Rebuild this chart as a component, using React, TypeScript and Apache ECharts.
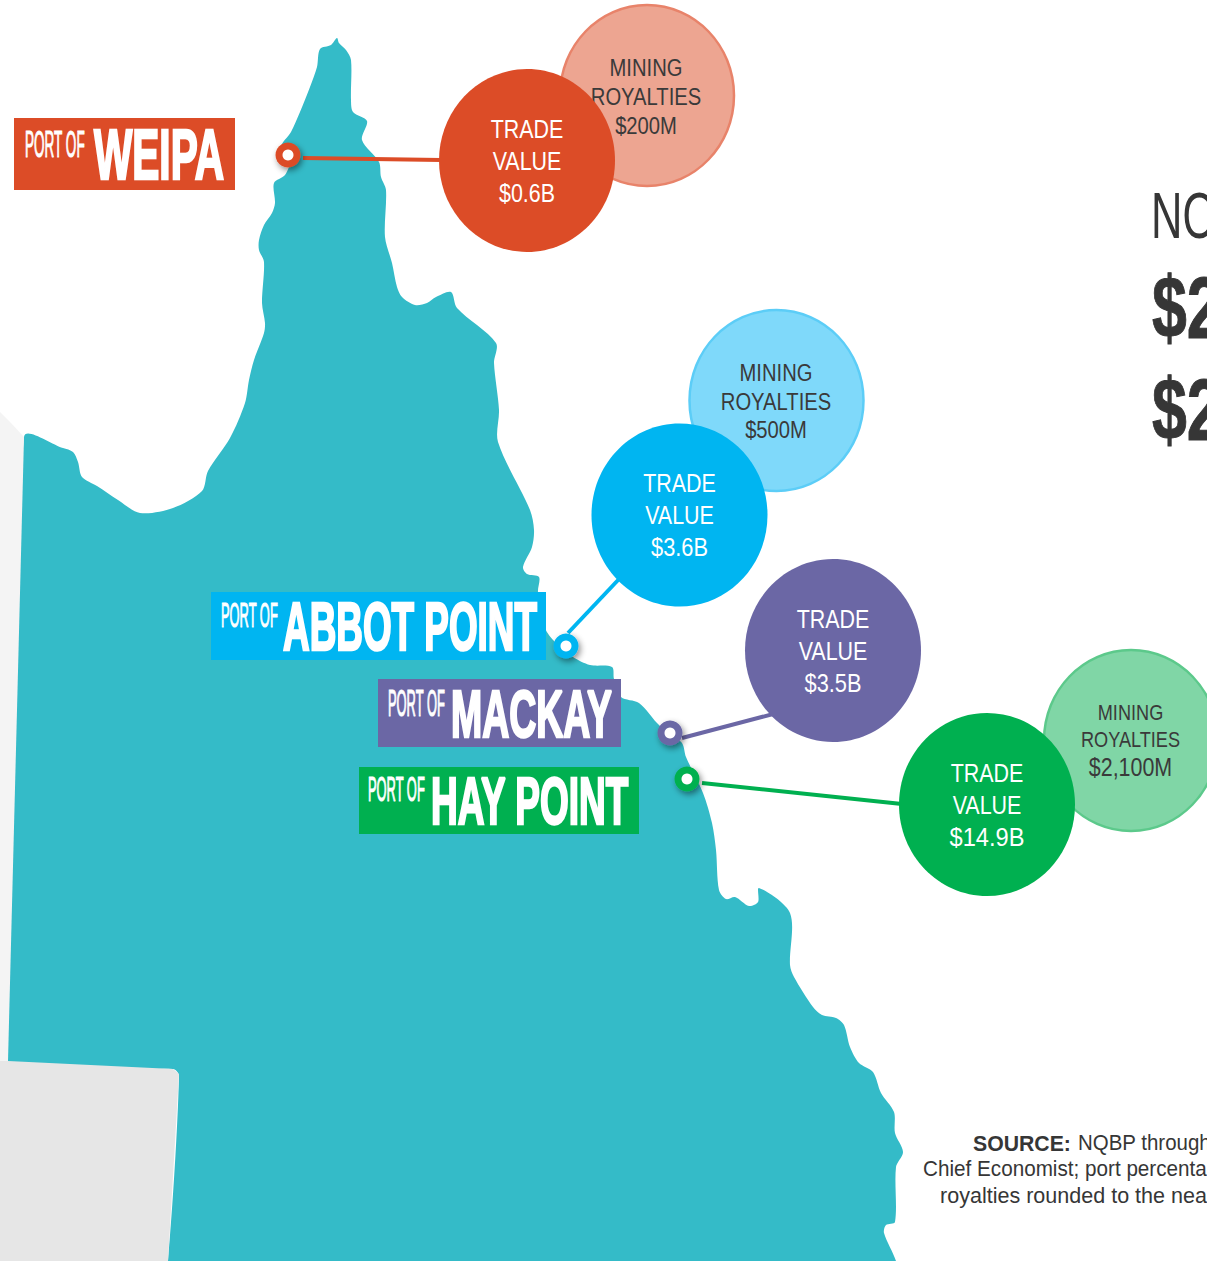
import React, { useEffect, useRef } from "react";
import * as echarts from "echarts";

const WIDTH = 1207;
const HEIGHT = 1261;

// ---- content ----
const portNames = ["WEIPA", "ABBOT POINT", "MACKAY", "HAY POINT"];
const tradeValues = ["$0.6B", "$3.6B", "$3.5B", "$14.9B"];
const royaltyValues = ["$200M", "$500M", "", "$2,100M"];
const sideHeading = "NO";
const sideFigures = ["$2", "$2"];
const sourceBold = "SOURCE:";
const sourceLines = ["NQBP through", "Chief Economist; port percenta", "royalties rounded to the nea"];

// ---- layout ----
const coast: number[][] = [
  [8, 1061], [24, 437], [63, 448], [73, 452], [78, 462], [82, 477], [97, 486], [118, 500], [140, 513], [173, 508],
  [202, 491], [208, 471], [230, 438], [245, 403], [249, 380], [254, 360], [264, 333], [265, 323], [262, 303],
  [264, 262], [259, 250], [259, 240], [264, 225], [272, 213], [275, 203], [274, 183], [285, 175], [290, 160],
  [281, 147], [291, 132], [300, 112], [310, 87], [317, 67], [320, 49], [331, 45], [337, 38], [339, 43], [346, 50],
  [351, 60], [351, 100], [353, 112], [367, 121], [362, 140], [379, 162], [381, 177], [386, 190], [385, 237],
  [392, 263], [397, 287], [402, 297], [415, 305], [427, 303], [436, 297], [451, 292], [457, 308], [496, 343],
  [494, 363], [499, 410], [498, 442], [530, 510], [534, 530], [532, 547], [523, 567], [527, 574], [539, 577],
  [538, 592], [545, 628], [555, 642], [573, 657], [590, 665], [612, 667], [614, 679], [621, 697], [639, 703],
  [657, 723], [670, 735], [682, 743], [686, 757], [703, 793], [712, 823], [716, 850], [719, 890], [726, 899],
  [735, 897], [749, 906], [758, 902], [759, 888], [790, 913], [790, 965], [794, 977], [813, 1007], [822, 1015],
  [836, 1018], [844, 1025], [850, 1047], [859, 1063], [873, 1072], [881, 1093], [894, 1112], [895, 1133],
  [903, 1152], [896, 1167], [895, 1222], [886, 1225], [884, 1233], [896, 1261], [905, 1300], [160, 1300],
  [168, 1261], [179, 1076], [173, 1069],
];
const lightLand: number[][] = [[0, 412], [10, 422], [24, 437], [8, 1061], [0, 1061]];
const greyLand: number[][] = [[0, 1061], [8, 1061], [173, 1069], [179, 1074], [168, 1261], [0, 1261]];

const portColors = ["#DC4C27", "#00B5F1", "#6B67A5", "#00B050"];
const royaltyFills = ["#EDA591", "#7FD9FA", "", "#80D6A6"];
const royaltyStrokes = ["#E8836A", "#5CCDF7", "", "#5CC98B"];
const dots = [[288, 155], [566, 646], [670, 733], [687, 779]];
const lineStarts = [[303, 158], [568, 633], [682, 738], [702, 783]];
const lineEnds = [[441, 160], [620, 578], [777, 713], [902, 804]];
const tradeCentres = [[527, 160.5], [679.5, 515], [833, 650.5], [987, 804.5]];
const tradeTextX = [527, 679.5, 833, 987];
const tradeTextY = [[129, 161, 193], [483, 515, 547], [619, 651, 683], [773, 805, 837]];
const tradeValueW = [56, 57, 57, 75];
const royaltyCentres = [[647, 95.5], [776.5, 400.5], null, [1131, 740.5]];
const royaltyTextX = [646, 776, 0, 1130.5];
const royaltyTextY = [[68, 97, 126], [373, 402, 430], [], [712, 739, 767]];
const royaltySizes = [[24.5, 24.5, 24.5], [24.5, 24.5, 24.5], [], [22, 22, 26]];
const banners = [[14, 118, 235, 190], [211, 592, 546, 660], [378, 679, 621, 747], [359, 767, 639, 834]];
const smallLabel = [[25, 85, 143.5, 27], [221, 278, 615.5, 25], [388, 445, 703, 26], [368, 425, 789.5, 25]];
const bigLabel = [[94, 224, 154.5, 51], [283, 537, 626.5, 49], [451, 612, 714, 48], [431, 629, 801, 48]];
const sourceX = [1078, 923, 940];
const sourceY = [1143, 1169, 1195];
const sourceW = [133, 284, 267];

const SANS = '"Liberation Sans", sans-serif';
const BUBBLE_SQUEEZE = 0.825;

const measureCanvas = typeof document !== "undefined" ? document.createElement("canvas").getContext("2d") : null;
function fit(text: string, font: string, width: number) {
  if (!measureCanvas) return 1;
  measureCanvas.font = font;
  return width / measureCanvas.measureText(text).width;
}

function layer(z: number, build: (api: any) => any[]) {
  return {
    type: "custom",
    coordinateSystem: "cartesian2d",
    silent: true,
    z,
    data: [[0, 0]],
    renderItem: (_p: any, api: any) => ({ type: "group", children: build(api) }),
  };
}

function poly(api: any, pts: number[][], fill: string, smooth = 0) {
  return {
    type: "polygon",
    shape: { points: pts.map((p) => api.coord(p)), smooth },
    style: { fill },
  };
}

function label(api: any, text: string, x: number, y: number, font: string, fill: string, extra: any = {}) {
  const [px, py] = api.coord([x, y]);
  return {
    type: "text",
    x: px,
    y: py,
    scaleX: extra.scaleX ?? 1,
    scaleY: extra.scaleY ?? 1,
    style: {
      text,
      font,
      fill,
      align: extra.align ?? "center",
      verticalAlign: "middle",
      stroke: extra.stroke,
      lineWidth: extra.lineWidth,
    },
  };
}

function ellipse(api: any, c: number[], w: number, h: number, fill: string, stroke?: string) {
  const [cx, cy] = api.coord(c);
  return {
    type: "ellipse",
    shape: { cx, cy, rx: w / 2, ry: h / 2 },
    style: { fill, stroke, lineWidth: stroke ? 2.5 : 0 },
  };
}

function buildOption() {
  const series: any[] = [];

  series.push(
    layer(1, (api) => [
      poly(api, coast, "#34BBC8", 0.3),
      poly(api, lightLand, "#F4F4F4"),
      poly(api, greyLand, "#E6E6E6"),
    ])
  );

  series.push(
    layer(2, (api) =>
      portNames.map((_, i) => {
        const a = api.coord(lineStarts[i]);
        const b = api.coord(lineEnds[i]);
        return {
          type: "line",
          shape: { x1: a[0], y1: a[1], x2: b[0], y2: b[1] },
          style: { stroke: portColors[i], lineWidth: 4 },
        };
      })
    )
  );

  series.push(
    layer(3, (api) => {
      const out: any[] = [];
      royaltyValues.forEach((v, i) => {
        const c = royaltyCentres[i];
        if (!c || !v) return;
        out.push(ellipse(api, c, 174, 181, royaltyFills[i], royaltyStrokes[i]));
      });
      return out;
    })
  );

  series.push(
    layer(4, (api) => {
      const out: any[] = [];
      royaltyValues.forEach((v, i) => {
        if (!v) return;
        const lines = ["MINING", "ROYALTIES", v];
        lines.forEach((t, j) => {
          const size = royaltySizes[i][j];
          out.push(
            label(api, t, royaltyTextX[i], royaltyTextY[i][j], `${size}px ${SANS}`, "#3A3A3A", {
              scaleX: BUBBLE_SQUEEZE,
            })
          );
        });
      });
      return out;
    })
  );

  series.push(
    layer(5, (api) => {
      const out: any[] = [];
      tradeValues.forEach((v, i) => {
        out.push(ellipse(api, tradeCentres[i], 176, 183, portColors[i]));
        const font = `26px ${SANS}`;
        ["TRADE", "VALUE", v].forEach((t, j) => {
          out.push(
            label(api, t, tradeTextX[i], tradeTextY[i][j], font, "#FFFFFF", {
              scaleX: j === 2 ? fit(t, font, tradeValueW[i]) : BUBBLE_SQUEEZE,
            })
          );
        });
      });
      return out;
    })
  );

  series.push(
    layer(6, (api) => {
      const out: any[] = [];
      portNames.forEach((name, i) => {
        const [x0, y0, x1, y1] = banners[i];
        const a = api.coord([x0, y0]);
        const b = api.coord([x1, y1]);
        out.push({
          type: "rect",
          shape: { x: a[0], y: a[1], width: b[0] - a[0], height: b[1] - a[1] },
          style: { fill: portColors[i] },
        });
        const [sx0, sx1, sy, sh] = smallLabel[i];
        const sFont = `${sh / 0.72}px ${SANS}`;
        out.push(
          label(api, "PORT OF", sx0, sy, sFont, "#FFFFFF", {
            align: "left",
            scaleX: fit("PORT OF", sFont, sx1 - sx0),
            stroke: "#FFFFFF",
            lineWidth: 1.2,
          })
        );
        const [bx0, bx1, by, bh] = bigLabel[i];
        const bFont = `bold ${bh / 0.72}px ${SANS}`;
        out.push(
          label(api, name, bx0, by, bFont, "#FFFFFF", {
            align: "left",
            scaleX: fit(name, bFont, bx1 - bx0),
            stroke: "#FFFFFF",
            lineWidth: 2.6,
          })
        );
      });
      return out;
    })
  );

  series.push(
    layer(7, (api) => {
      const out: any[] = [];
      portNames.forEach((_, i) => {
        const [cx, cy] = api.coord(dots[i]);
        out.push({
          type: "circle",
          shape: { cx, cy, r: 12.5 },
          style: {
            fill: portColors[i],
            shadowBlur: 6,
            shadowColor: "rgba(0,0,0,0.45)",
            shadowOffsetX: 2,
            shadowOffsetY: 3,
          },
        });
        out.push({ type: "circle", shape: { cx, cy, r: 5.5 }, style: { fill: "#FFFFFF" } });
      });
      return out;
    })
  );

  series.push(
    layer(8, (api) => {
      const headFont = `64px ${SANS}`;
      const figFont = `bold 87px ${SANS}`;
      const out: any[] = [
        label(api, sideHeading, 1151, 216, headFont, "#363636", { align: "left", scaleX: 0.68 }),
        label(api, sideFigures[0], 1152, 308, figFont, "#363636", { align: "left", scaleX: 0.72, stroke: "#363636", lineWidth: 1 }),
        label(api, sideFigures[1], 1152, 410, figFont, "#363636", { align: "left", scaleX: 0.72, stroke: "#363636", lineWidth: 1 }),
      ];
      const boldFont = `bold 22px ${SANS}`;
      const regFont = `22px ${SANS}`;
      out.push(label(api, sourceBold, 973, sourceY[0], boldFont, "#363636", { align: "left", scaleX: fit(sourceBold, boldFont, 98) }));
      sourceLines.forEach((line, i) => {
        out.push(
          label(api, line, sourceX[i], sourceY[i], regFont, "#363636", {
            align: "left",
            scaleX: fit(line, regFont, sourceW[i]),
          })
        );
      });
      return out;
    })
  );

  return {
    animation: false,
    backgroundColor: "#FFFFFF",
    grid: { left: 0, right: 0, top: 0, bottom: 0 },
    xAxis: { type: "value", min: 0, max: WIDTH, show: false },
    yAxis: { type: "value", min: 0, max: HEIGHT, inverse: true, show: false },
    series,
  };
}

export default function App() {
  const ref = useRef<HTMLDivElement>(null);
  useEffect(() => {
    document.body.style.margin = "0";
    const chart = echarts.init(ref.current!, undefined, { renderer: "svg" });
    chart.setOption(buildOption() as any);
    return () => chart.dispose();
  }, []);
  return (
    <div
      ref={ref}
      style={{ width: WIDTH, height: HEIGHT, position: "absolute", left: 0, top: 0, overflow: "hidden" }}
    />
  );
}
